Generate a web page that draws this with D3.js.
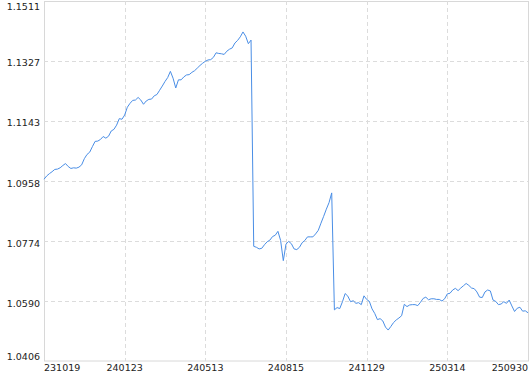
<!DOCTYPE html>
<html>
<head>
<meta charset="utf-8">
<script src="https://cdn.jsdelivr.net/npm/d3@7"></script>
<style>
  html, body { margin: 0; padding: 0; background: #fff; }
  svg { display: block; }
  .tick-label { font-family: "DejaVu Sans", Verdana, sans-serif; font-size: 9.5px; fill: #222; }
</style>
</head>
<body>
<div id="chart"></div>
<script>
// tick labels (x axis uses data index, labels evenly spread)
const dateLabels = ['231019', '240123', '240513', '240815', '241129', '250314', '250930'];
const yTicks = [1.0406, 1.0590, 1.0774, 1.0958, 1.1143, 1.1327, 1.1511];

// net value series
const nav = [
  1.0964, 1.0974, 1.0981, 1.0987, 1.0994, 1.0995, 1.0999, 1.1006, 1.1012, 1.1003,
  1.0997, 1.0999, 1.0998, 1.1001, 1.1008, 1.1027, 1.1040, 1.1047, 1.1064, 1.1080,
  1.1081, 1.1086, 1.1095, 1.1090, 1.1096, 1.1112, 1.1117, 1.1130, 1.1150, 1.1148,
  1.1161, 1.1185, 1.1197, 1.1206, 1.1207, 1.1215, 1.1207, 1.1194, 1.1204, 1.1209,
  1.1210, 1.1220, 1.1224, 1.1237, 1.1250, 1.1264, 1.1276, 1.1295, 1.1274, 1.1244,
  1.1269, 1.1269, 1.1278, 1.1284, 1.1285, 1.1292, 1.1297, 1.1305, 1.1313, 1.1320,
  1.1326, 1.1330, 1.1331, 1.1338, 1.1352, 1.1350, 1.1349, 1.1347, 1.1357, 1.1363,
  1.1367, 1.1382, 1.1390, 1.1401, 1.1416, 1.1403, 1.1380, 1.1391, 1.0758, 1.0755,
  1.0750, 1.0752, 1.0763, 1.0772, 1.0777, 1.0788, 1.0792, 1.0804, 1.0776, 1.0714,
  1.0765, 1.0773, 1.0766, 1.0750, 1.0748, 1.0755, 1.0769, 1.0776, 1.0787, 1.0787,
  1.0787, 1.0796, 1.0807, 1.0829, 1.0850, 1.0872, 1.0892, 1.0922, 1.0563, 1.0570,
  1.0567, 1.0588, 1.0613, 1.0605, 1.0588, 1.0591, 1.0583, 1.0585, 1.0579, 1.0606,
  1.0595, 1.0589, 1.0566, 1.0552, 1.0533, 1.0536, 1.0529, 1.0510, 1.0501, 1.0512,
  1.0524, 1.0532, 1.0538, 1.0545, 1.0580, 1.0573, 1.0578, 1.0579, 1.0579, 1.0576,
  1.0586, 1.0598, 1.0602, 1.0594, 1.0597, 1.0597, 1.0595, 1.0595, 1.0590, 1.0597,
  1.0612, 1.0614, 1.0624, 1.0629, 1.0622, 1.0630, 1.0637, 1.0644, 1.0638, 1.0630,
  1.0628, 1.0618, 1.0602, 1.0601, 1.0618, 1.0624, 1.0621, 1.0593, 1.0589, 1.0579,
  1.0581, 1.0588, 1.0583, 1.0593, 1.0575, 1.0558, 1.0568, 1.0571, 1.0559, 1.0560,
  1.0554
];

const W = 530, H = 374;
const margin = {top: 1, right: 2, bottom: 13, left: 44};
const width = W - margin.left - margin.right;
const height = H - margin.top - margin.bottom;

const svg = d3.select('#chart').append('svg')
    .attr('width', W)
    .attr('height', H);

const g = svg.append('g')
    .attr('transform', 'translate(' + margin.left + ',' + margin.top + ')');

let xScale = d3.scaleLinear()
    .domain([0, nav.length - 1])
    .range([0, width]);

let yScale = d3.scaleLinear()
    .domain([yTicks[0], yTicks[yTicks.length - 1]])
    .range([height, 0]);

const step = (nav.length - 1) / (dateLabels.length - 1);
const xTickIdx = dateLabels.map((d, i) => i * step);

// frame
g.append('rect')
    .attr('x', 0.5).attr('y', 0.5)
    .attr('width', width).attr('height', height - 0.5)
    .attr('fill', 'none')
    .attr('stroke', '#d8d8d8');

// grid
g.selectAll('.hgrid').data(yTicks.slice(1, -1)).enter().append('line')
    .attr('class', 'hgrid')
    .attr('x1', 0).attr('x2', width)
    .attr('y1', d => Math.round(yScale(d)) + 0.5)
    .attr('y2', d => Math.round(yScale(d)) + 0.5)
    .attr('stroke', '#dcdcdc')
    .attr('stroke-dasharray', '4,3');

g.selectAll('.vgrid').data(xTickIdx.slice(1, -1)).enter().append('line')
    .attr('class', 'vgrid')
    .attr('x1', d => Math.round(xScale(d)) + 0.5)
    .attr('x2', d => Math.round(xScale(d)) + 0.5)
    .attr('y1', 0).attr('y2', height)
    .attr('stroke', '#dcdcdc')
    .attr('stroke-dasharray', '4,3');

// y labels, kept inside the plot height
g.selectAll('.ylab').data(yTicks).enter().append('text')
    .attr('class', 'tick-label')
    .attr('x', -4)
    .attr('y', d => Math.max(9, Math.min(height - 1, yScale(d) + 5.5)))
    .attr('text-anchor', 'end')
    .text(d => d.toFixed(4));

// x labels
g.selectAll('.xlab').data(dateLabels).enter().append('text')
    .attr('class', 'tick-label')
    .attr('x', (d, i) => xScale(xTickIdx[i]))
    .attr('y', height + 10)
    .attr('text-anchor', (d, i) => i === 0 ? 'start' : (i === dateLabels.length - 1 ? 'end' : 'middle'))
    .text(d => d);

// line
const line = d3.line()
    .x((d, i) => xScale(i))
    .y(d => yScale(d));

g.append('path')
    .datum(nav)
    .attr('fill', 'none')
    .attr('stroke', '#4a8ee6')
    .attr('stroke-width', 1)
    .attr('d', line);
</script>
</body>
</html>
